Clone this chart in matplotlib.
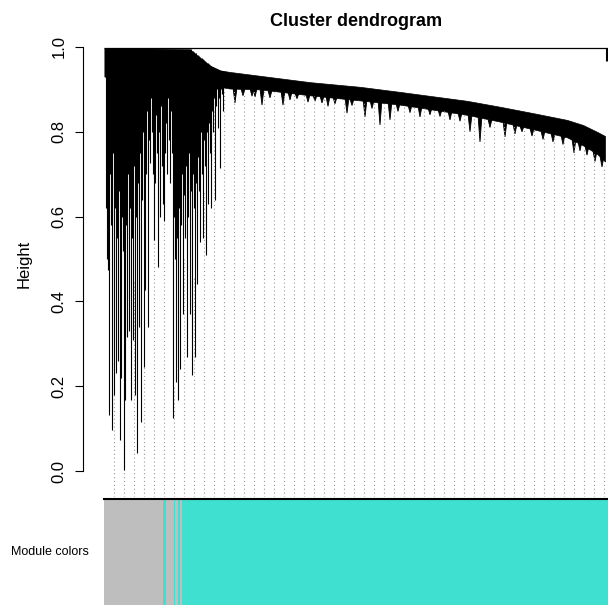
import matplotlib
matplotlib.use("Agg")
import matplotlib.pyplot as plt
from matplotlib.ticker import FormatStrFormatter

plt.rcParams['font.family'] = ['Liberation Sans', 'DejaVu Sans']

# leaf order runs 0..504 (one unit per leaf column)
n_leaves = 504

# left, loosely joined part: column position, merge height, leaf height
left_pos = list(range(0, 120))
left_top = [0.995] * 87 + [0.99, 0.99, 0.988, 0.986, 0.985, 0.982, 0.98, 0.978, 0.976, 0.975,
                           0.973, 0.971, 0.969, 0.967, 0.965, 0.963, 0.961, 0.959, 0.957, 0.955,
                           0.953, 0.952, 0.95, 0.949, 0.948, 0.947, 0.946, 0.945, 0.944, 0.944,
                           0.943, 0.943, 0.942]
left_low = [0.93, 0.62, 0.50, 0.475, 0.132, 0.70, 0.58, 0.097, 0.75, 0.179,
            0.62, 0.23, 0.55, 0.26, 0.66, 0.073, 0.22, 0.60, 0.52, 0.003,
            0.167, 0.58, 0.316, 0.70, 0.33, 0.62, 0.167, 0.55, 0.31, 0.72,
            0.18, 0.60, 0.042, 0.68, 0.34, 0.75, 0.116, 0.64, 0.80, 0.245,
            0.427, 0.70, 0.85, 0.34, 0.78, 0.726, 0.88, 0.80, 0.70, 0.545,
            0.68, 0.84, 0.75, 0.48, 0.80, 0.60, 0.86, 0.72, 0.63, 0.59,
            0.75, 0.82, 0.70, 0.88, 0.78, 0.68, 0.85, 0.75, 0.125, 0.60,
            0.50, 0.21, 0.55, 0.167, 0.62, 0.24, 0.58, 0.70, 0.37, 0.65,
            0.55, 0.72, 0.27, 0.60, 0.75, 0.37, 0.66, 0.226, 0.70, 0.62,
            0.27, 0.68, 0.44, 0.74, 0.66, 0.54, 0.80, 0.70, 0.55, 0.78,
            0.72, 0.51, 0.80, 0.63, 0.82, 0.75, 0.62, 0.85, 0.80, 0.88,
            0.64, 0.86, 0.90, 0.81, 0.88, 0.715, 0.90, 0.89, 0.85, 0.91]

# solid cap over the left part
cap_x = [0, 86, 96, 106, 116, 119]
cap_top = [0.998, 0.995, 0.975, 0.957, 0.946, 0.944]
cap_low = [0.93, 0.93, 0.93, 0.925, 0.915, 0.91]

# tight right part: the dense band
band_x = [118, 126, 156, 206, 256, 296, 363, 396, 429, 463, 479, 493, 501]
band_top = [0.944, 0.941, 0.932, 0.917, 0.906, 0.894, 0.873, 0.859, 0.844, 0.828, 0.816, 0.80, 0.79]
band_low = [0.905, 0.902, 0.90, 0.886, 0.874, 0.864, 0.840, 0.824, 0.806, 0.787, 0.768, 0.748, 0.73]

# small clusters hanging below the band
spike_pos = [131, 139, 148, 151, 158, 166, 179, 186, 193, 204, 211, 218, 224, 231,
             243, 248, 261, 268, 276, 286, 294, 306, 316, 326, 336, 346, 356, 366,
             376, 386, 401, 411, 418, 428, 439, 449, 459, 470, 476, 483, 491, 498]
spike_top = [0.90, 0.90, 0.90, 0.90, 0.898, 0.896, 0.893, 0.892, 0.89, 0.886, 0.885, 0.883, 0.882, 0.88,
             0.877, 0.876, 0.873, 0.872, 0.870, 0.868, 0.865, 0.862, 0.858, 0.855, 0.851, 0.847, 0.843, 0.838,
             0.833, 0.828, 0.822, 0.816, 0.812, 0.806, 0.80, 0.795, 0.79, 0.78, 0.775, 0.765, 0.752, 0.74]
spike_low = [0.868, 0.885, 0.884, 0.882, 0.863, 0.88, 0.863, 0.875, 0.878, 0.87, 0.872, 0.868, 0.86, 0.866,
             0.844, 0.862, 0.835, 0.855, 0.816, 0.828, 0.848, 0.845, 0.835, 0.84, 0.836, 0.828, 0.825, 0.80,
             0.776, 0.81, 0.788, 0.795, 0.80, 0.79, 0.782, 0.776, 0.77, 0.75, 0.755, 0.745, 0.73, 0.717]
spike_half_width = 1.8

# guide lines (50 of them)
guide_pos = list(range(9, 509, 10))
guide_top = [0.18, 0.40, 0.45, 0.245, 0.72, 0.59, 0.20, 0.50, 0.46, 0.66,
             0.85, 0.91, 0.90, 0.90, 0.90, 0.895, 0.893, 0.89, 0.888, 0.886,
             0.884, 0.88, 0.878, 0.875, 0.873, 0.871, 0.868, 0.866, 0.864, 0.862,
             0.858, 0.855, 0.852, 0.848, 0.844, 0.84, 0.835, 0.83, 0.825, 0.82,
             0.815, 0.81, 0.805, 0.80, 0.793, 0.787, 0.778, 0.765, 0.75, 0.72]

# module colour strip
module_start = [0, 59, 62, 70, 71.3, 74, 76, 77.7]
module_end = [59, 62, 70, 71.3, 74, 76, 77.7, 504]
module_color = ['#BEBEBE', '#40E0D0', '#BEBEBE', '#40E0D0', '#BEBEBE', '#40E0D0', '#BEBEBE', '#40E0D0']

fig = plt.figure(figsize=(6.08, 6.07), dpi=100)
ax = fig.add_axes([104 / 608, 1 - 497 / 607, 504 / 608, 467 / 607])
ax2 = fig.add_axes([104 / 608, 1 - 605 / 607, 504 / 608, 106 / 607])

# guides first, so the tree sits on top
ax.vlines([p + 0.5 for p in guide_pos], -0.07, guide_top, colors='#9a9a9a',
          linewidth=0.8, linestyles=(0, (1, 2.5)))

ax.fill_between(cap_x, cap_low, cap_top, color='black', linewidth=0)
ax.vlines([p + 0.5 for p in left_pos], left_low, left_top, colors='black', linewidth=0.8)
ax.fill_between(band_x, band_low, band_top, color='black', linewidth=0.5, edgecolor='black')
for p, t, b in zip(spike_pos, spike_top, spike_low):
    ax.fill([p - spike_half_width, p + spike_half_width, p], [t, t, b],
            color='black', linewidth=0.6)
ax.hlines(0.998, 0, n_leaves, colors='black', linewidth=0.9)
ax.vlines(502.5, 0.968, 0.998, colors='black', linewidth=2.2)

ax.set_xlim(0, n_leaves)
ax.set_ylim(-0.0613, 1.040)
for s in ['top', 'right', 'bottom']:
    ax.spines[s].set_visible(False)
ax.spines['left'].set_position(('outward', 15.1))
ax.spines['left'].set_bounds(0, 1)
ax.spines['left'].set_linewidth(0.8)
ax.set_xticks([])
ax.set_yticks([0.0, 0.2, 0.4, 0.6, 0.8, 1.0])
ax.yaxis.set_major_formatter(FormatStrFormatter('%.1f'))
ax.tick_params(axis='y', length=6, width=0.8, pad=6, labelsize=12)
for lab in ax.get_yticklabels():
    lab.set_rotation(90)
    lab.set_va('center')
ax.set_ylabel('Height', fontsize=12, labelpad=14)
fig.text(356 / 608, 1 - 22 / 607, 'Cluster dendrogram', fontsize=13, fontweight='bold',
         ha='center', va='center')

for s, e, c in zip(module_start, module_end, module_color):
    ax2.axvspan(s, e, color=c, linewidth=0)
ax2.set_xlim(0, n_leaves)
ax2.set_ylim(0, 1)
ax2.set_xticks([])
ax2.set_yticks([])
for s in ['left', 'right', 'bottom']:
    ax2.spines[s].set_visible(False)
ax2.spines['top'].set_linewidth(1.5)
fig.text(50 / 608, 1 - 552 / 607, 'Module colors', fontsize=9, ha='center', va='center')

fig.savefig('out.png', dpi=100)
